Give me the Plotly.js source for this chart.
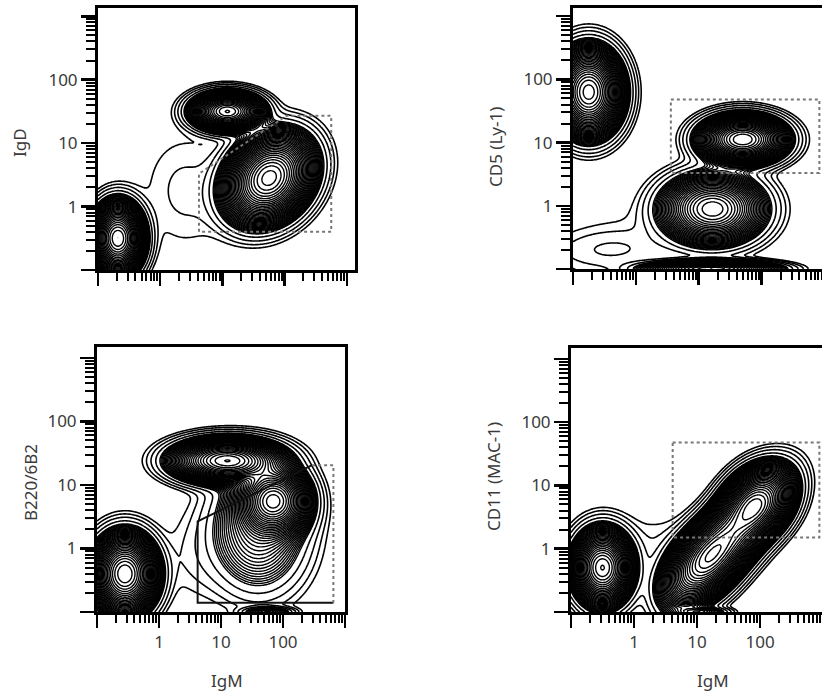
<!DOCTYPE html>
<html><head><meta charset="utf-8">
<script src="https://cdn.plot.ly/plotly-3.0.1.min.js"></script>
<style>html,body{margin:0;padding:0;overflow:hidden;background:#fff}#chart{width:835px;height:694px}</style>
</head><body><div id="chart"></div>
<script>
// ---- tick values (log-scale fluorescence) ----
const decadeTicks  = [0.1, 1, 10, 100, 1000];
const decadeLabels = ['', '1', '10', '100', ''];
const minorTicks   = [0.2,0.3,0.4,0.5,0.6,0.7,0.8,0.9, 2,3,4,5,6,7,8,9, 20,30,40,50,60,70,80,90, 200,300,400,500,600,700,800,900, 2000];

// ---- axis titles ----
const xTitle  = 'IgM';
const yTitles = ['IgD', 'CD5 (Ly-1)', 'B220/6B2', 'CD11 (MAC-1)'];

// ---- cell populations (log10 units) ----
// panel 1: IgD vs IgM  [null, IgD-hi, IgM main, bridge]
const p1U   = [-0.68, 1.08, 1.75, 0.40];
const p1V   = [-0.50, 1.50, 0.45, 0.25];
const p1SA  = [0.19, 0.26, 0.35, 0.45];
const p1SB  = [0.26, 0.14, 0.28, 0.60];
const p1Ang = [0, 0, 45, 0];
const p1W   = [1, 0.9, 1.2, 0.006];
const p1P   = [2, 2, 2, 2];
// panel 2: CD5 vs IgM  [T cells, CD5+ B, CD5- B, axis pile, low bowl, bridge]
const p2U   = [-0.75, 1.70, 1.22, 1.20, -0.39, -0.30];
const p2V   = [1.80, 1.05, -0.05, -1.00, -0.70, -0.60];
const p2SA  = [0.24, 0.31, 0.38, 0.45, 0.55, 0.80];
const p2SB  = [0.31, 0.175, 0.26, 0.06, 0.18, 0.35];
const p2Ang = [0, 0, 0, 0, 0, 10];
const p2W   = [1.2, 1.0, 0.55, 1.0, 0.006, 0.004];
const p2P   = [2, 2, 2, 2, 2, 2];
// panel 3: B220/6B2 vs IgM  [null, B220-hi, IgM-hi, low spread, axis pile, bridge]
const p3U   = [-0.55, 1.10, 1.85, 1.60, 1.75, 0.60];
const p3V   = [-0.40, 1.38, 0.75, 0.30, -1.00, -0.10];
const p3SA  = [0.24, 0.40, 0.26, 0.40, 0.20, 0.35];
const p3SB  = [0.29, 0.16, 0.25, 0.50, 0.04, 0.45];
const p3Ang = [0, 0, 0, 0, 0, 0];
const p3W   = [1, 1, 0.9, 0.12, 0.1, 0.005];
const p3P   = [2, 2, 2, 2, 2, 2];
// panel 4: CD11 vs IgM  [null, lower peak, upper peak, IgM+ CD11+ body, axis pile, bridge]
const p4U   = [-0.50, 1.12, 1.95, 1.55, 1.05, 0.40];
const p4V   = [-0.30, -0.22, 0.72, 0.25, -1.00, 0.00];
const p4SA  = [0.22, 0.38, 0.30, 0.48, 0.22, 0.70];
const p4SB  = [0.28, 0.22, 0.22, 0.22, 0.04, 0.35];
const p4Ang = [0, 48, 48, 48, 0, 0];
const p4W   = [0.8, 0.9, 1.0, 0.8, 0.1, 0.005];
const p4P   = [2, 2, 2, 2, 2, 2];

// ---- gates (data values) ----
const gate1X = [4.2, 4.2, 107, 560, 560, 4.2];
const gate1Y = [0.4, 3.3, 27, 27, 0.4, 0.4];
const gate2X = [3.6, 830, 830, 3.6, 3.6];
const gate2Y = [48, 48, 3.3, 3.3, 48];
const gate3SolidX = [650, 4.2, 4.2, 295];
const gate3SolidY = [0.14, 0.14, 2.66, 20.4];
const gate3DotX = [295, 650, 650];
const gate3DotY = [20.4, 20.4, 0.14];
const gate4X = [4.1, 870, 870, 4.1, 4.1];
const gate4Y = [47.6, 47.6, 1.5, 1.5, 47.6];

// ---- density grid ----
function makeGrid(U, V, SA, SB, ANG, W, P) {
  const us = [], vs = [];
  for (let u = -1; u <= 3.25; u += 0.02) us.push(u);
  for (let v = -1; v <= 3.25; v += 0.02) vs.push(v);
  const z = vs.map(v => us.map(u => {
    let s = 0;
    for (let i = 0; i < U.length; i++) {
      const th = ANG[i] * Math.PI / 180, du = u - U[i], dv = v - V[i];
      const a = (du * Math.cos(th) + dv * Math.sin(th)) / SA[i];
      const b = (-du * Math.sin(th) + dv * Math.cos(th)) / SB[i];
      s += W[i] * Math.exp(-0.5 * Math.pow(a * a + b * b, P[i] / 2));
    }
    return Math.log10(s + 1e-12);
  }));
  return {x: us.map(u => Math.pow(10, u)), y: vs.map(v => Math.pow(10, v)), z};
}
const panels = [
  makeGrid(p1U, p1V, p1SA, p1SB, p1Ang, p1W, p1P),
  makeGrid(p2U, p2V, p2SA, p2SB, p2Ang, p2W, p2P),
  makeGrid(p3U, p3V, p3SA, p3SB, p3Ang, p3W, p3P),
  makeGrid(p4U, p4V, p4SA, p4SB, p4Ang, p4W, p4P)
];
const axSuffix = ['', '2', '3', '4'];
const traces = [];
panels.forEach((g, i) => {
  traces.push({type: 'contour', x: g.x, y: g.y, z: g.z,
    xaxis: 'x' + axSuffix[i], yaxis: 'y' + axSuffix[i], autocontour: false,
    contours: {start: -2.55, end: -1.75, size: 0.25, coloring: 'none'},
    line: {color: '#000', width: 1.6, smoothing: 1}, showscale: false, hoverinfo: 'skip'});
  traces.push({type: 'contour', x: g.x, y: g.y, z: g.z,
    xaxis: 'x' + axSuffix[i], yaxis: 'y' + axSuffix[i], autocontour: false,
    contours: {start: -1.6, end: 0.3, size: 0.05, coloring: 'none'},
    line: {color: '#000', width: 1.4, smoothing: 1}, showscale: false, hoverinfo: 'skip'});
});
function gateTrace(x, y, i, solid) {
  return {type: 'scatter', mode: 'lines', x, y, xaxis: 'x' + axSuffix[i], yaxis: 'y' + axSuffix[i],
    line: solid ? {color: '#111', width: 2} : {color: '#777', width: 2, dash: 'dot'},
    hoverinfo: 'skip', showlegend: false};
}
traces.push(gateTrace(gate1X, gate1Y, 0, false));
traces.push(gateTrace(gate2X, gate2Y, 1, false));
traces.push(gateTrace(gate3SolidX, gate3SolidY, 2, true));
traces.push(gateTrace(gate3DotX, gate3DotY, 2, false));
traces.push(gateTrace(gate4X, gate4Y, 3, false));

const W = 835, H = 694;
const tickFont = {family: 'Noto Sans, DejaVu Sans, sans-serif', size: 17, color: '#3a3a3a'};
function xAx(l, r, showLabels, anchor, maxLog) {
  return {type: 'log', domain: [l / W, r / W], range: [-1, maxLog], anchor,
    showline: true, mirror: true, linewidth: 3, linecolor: '#000',
    ticks: 'outside', ticklen: 13, tickwidth: 2.5, tickcolor: '#000',
    tickmode: 'array', tickvals: decadeTicks, ticktext: decadeLabels,
    minor: {tickmode: 'array', tickvals: minorTicks, ticks: 'outside', ticklen: 8, tickwidth: 2, tickcolor: '#000', showgrid: false},
    showticklabels: showLabels, tickfont: tickFont, showgrid: false, zeroline: false, fixedrange: true};
}
function yAx(top, bot, anchor, maxLog) {
  return {type: 'log', domain: [1 - bot / H, 1 - top / H], range: [-1, maxLog], anchor,
    showline: true, mirror: true, linewidth: 3, linecolor: '#000',
    ticks: 'outside', ticklen: 14, tickwidth: 2.5, tickcolor: '#000',
    tickmode: 'array', tickvals: decadeTicks, ticktext: decadeLabels,
    minor: {tickmode: 'array', tickvals: minorTicks, ticks: 'outside', ticklen: 9, tickwidth: 2, tickcolor: '#000', showgrid: false},
    tickfont: tickFont, showgrid: false, zeroline: false, fixedrange: true};
}
const titleFont = {family: 'Noto Sans, DejaVu Sans, sans-serif', size: 17, color: '#3a3a3a'};
function ann(text, px, py, rot) {
  return {text, x: px / W, y: 1 - py / H, xref: 'paper', yref: 'paper', xanchor: 'center', yanchor: 'middle',
    textangle: rot, showarrow: false, font: titleFont};
}
const layout = {
  width: W, height: H, margin: {l: 0, r: 0, t: 0, b: 0},
  paper_bgcolor: '#fff', plot_bgcolor: '#fff', showlegend: false,
  xaxis:  xAx(98, 355, false, 'y', 3.13),
  yaxis:  yAx(8, 270, 'x', 3.13),
  xaxis2: xAx(573, 832, false, 'y2', 3.12),
  yaxis2: yAx(8, 269, 'x2', 3.13),
  xaxis3: xAx(97, 345, true, 'y3', 3.0),
  yaxis3: yAx(347, 612, 'x3', 3.17),
  xaxis4: xAx(571, 832, true, 'y4', 3.14),
  yaxis4: yAx(348, 612, 'x4', 3.17),
  annotations: [
    ann(yTitles[0], 20, 143, -90),
    ann(yTitles[1], 495, 147, -90),
    ann(yTitles[2], 30, 483, -90),
    ann(yTitles[3], 493, 476, -90),
    ann(xTitle, 227, 680, 0),
    ann(xTitle, 713, 680, 0)
  ]
};
Plotly.newPlot('chart', traces, layout, {displayModeBar: false, staticPlot: true});
</script></body></html>
